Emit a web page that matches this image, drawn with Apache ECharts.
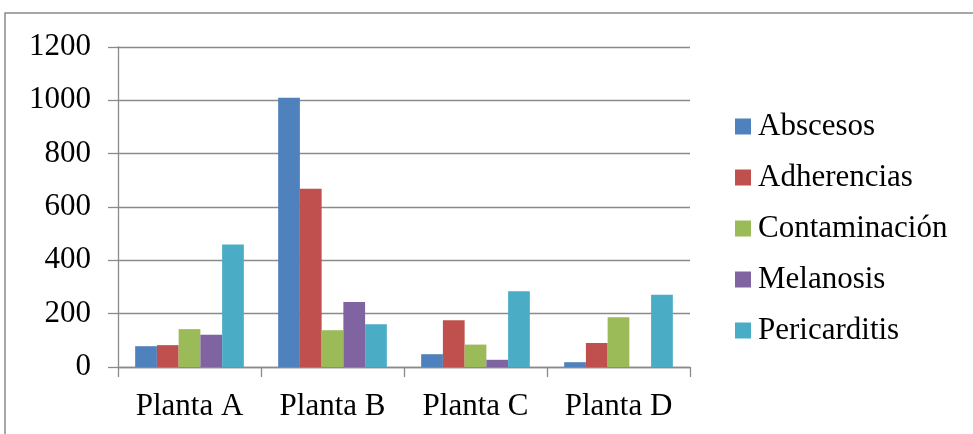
<!DOCTYPE html>
<html>
<head>
<meta charset="utf-8">
<script src="https://cdn.jsdelivr.net/npm/echarts@6/dist/echarts.min.js"></script>
<style>
  html, body { margin: 0; padding: 0; background: #ffffff; }
  #chart { width: 973px; height: 434px; }
</style>
</head>
<body>
<div id="chart"></div>
<script>
// Categories (plants) and the counts per lesion type
const categories = ['Planta A', 'Planta B', 'Planta C', 'Planta D'];
const abscesos      = [78, 1010, 48, 18];
const adherencias   = [82, 668, 175, 90];
const contaminacion = [142, 138, 84, 187];
const melanosis     = [121, 244, 27, 0];
const pericarditis  = [459, 160, 284, 271];

const seriesNames  = ['Abscesos', 'Adherencias', 'Contaminación', 'Melanosis', 'Pericarditis'];
const seriesData   = [abscesos, adherencias, contaminacion, melanosis, pericarditis];
const seriesColors = ['#4F81BD', '#C0504D', '#9BBB59', '#8064A2', '#4BACC6'];

const yTicks = { min: 0, max: 1200, interval: 200 };

const FONT = '"Liberation Serif", "Times New Roman", serif';
const LINE = '#8a8a8a';

const chart = echarts.init(document.getElementById('chart'), null, { renderer: 'canvas' });

chart.setOption({
  backgroundColor: '#ffffff',
  animation: false,
  textStyle: { fontFamily: FONT },
  graphic: [{
    type: 'rect',
    shape: { x: 5, y: 13, width: 1000, height: 460 },
    style: { fill: 'none', stroke: LINE, lineWidth: 1.5 },
    silent: true
  }],
  grid: { left: 118, top: 47, width: 572, height: 320, containLabel: false },
  legend: {
    orient: 'vertical',
    left: 730,
    top: 106,
    itemWidth: 16,
    itemHeight: 16,
    itemGap: 20,
    icon: 'rect',
    textStyle: { fontFamily: FONT, fontSize: 31, color: '#000', lineHeight: 31, padding: [0, 0, 0, 2] },
    data: seriesNames
  },
  xAxis: {
    type: 'category',
    data: categories,
    axisLine: { lineStyle: { color: LINE, width: 1.3 } },
    axisTick: { show: true, length: 10, alignWithLabel: false, lineStyle: { color: LINE, width: 1.3 } },
    axisLabel: { fontFamily: FONT, fontSize: 31, color: '#000', margin: 24 },
    splitLine: { show: false }
  },
  yAxis: {
    type: 'value',
    min: yTicks.min,
    max: yTicks.max,
    interval: yTicks.interval,
    axisLine: { show: true, lineStyle: { color: LINE, width: 1.3 } },
    axisTick: { show: true, length: 10, lineStyle: { color: LINE, width: 1.3 } },
    axisLabel: {
      fontFamily: FONT, fontSize: 31, color: '#000', margin: 27,
      formatter: (v) => String(v)
    },
    splitLine: { show: true, lineStyle: { color: LINE, width: 1.3 } }
  },
  series: seriesNames.map((name, i) => ({
    name: name,
    type: 'bar',
    data: seriesData[i],
    barGap: '0%',
    barCategoryGap: '24%',
    itemStyle: { color: seriesColors[i] }
  }))
});
</script>
</body>
</html>
